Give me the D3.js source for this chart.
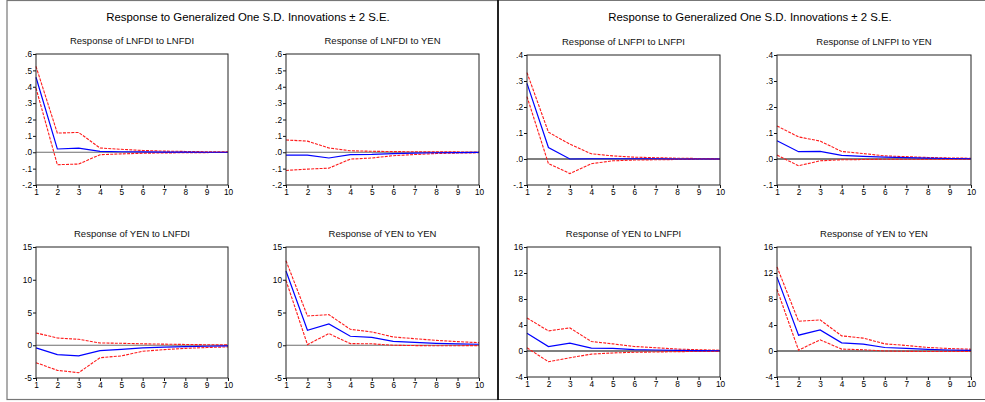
<!DOCTYPE html>
<html>
<head>
<meta charset="utf-8">
<script src="https://cdn.jsdelivr.net/npm/d3@7/dist/d3.min.js"></script>
<style>
  html, body { margin: 0; padding: 0; background: #fff; }
  svg { display: block; font-family: "Liberation Sans", Arial, sans-serif; }
</style>
</head>
<body>
<svg id="chart" width="985" height="402"></svg>
<script>
// Impulse-response horizon
const periods = [1, 2, 3, 4, 5, 6, 7, 8, 9, 10];

const mainTitle = "Response to Generalized One S.D. Innovations \u00b1 2 S.E.";

// Left block: LNFDI / YEN system
const lnfdiLnfdi      = [0.458, 0.020, 0.025, 0.005, 0.003, 0.002, 0.001, 0.001, 0.000, 0.000];
const lnfdiLnfdiUp    = [0.524, 0.117, 0.121, 0.026, 0.018, 0.011, 0.007, 0.005, 0.003, 0.002];
const lnfdiLnfdiLo    = [0.392, -0.076, -0.072, -0.015, -0.010, -0.006, -0.004, -0.003, -0.002, -0.001];

const lnfdiYen        = [-0.017, -0.017, -0.035, -0.015, -0.013, -0.008, -0.005, -0.003, -0.002, -0.001];
const lnfdiYenUp      = [0.075, 0.068, 0.026, 0.009, 0.006, 0.004, 0.003, 0.002, 0.002, 0.001];
const lnfdiYenLo      = [-0.111, -0.103, -0.097, -0.042, -0.035, -0.021, -0.014, -0.008, -0.005, -0.003];

const yenLnfdi        = [-0.40, -1.43, -1.63, -0.82, -0.62, -0.41, -0.30, -0.20, -0.15, -0.10];
const yenLnfdiUp      = [1.88, 1.11, 0.91, 0.35, 0.30, 0.22, 0.17, 0.12, 0.08, 0.05];
const yenLnfdiLo      = [-2.66, -3.83, -4.19, -1.90, -1.63, -0.92, -0.67, -0.47, -0.35, -0.25];

const yenYenA         = [11.34, 2.28, 3.25, 1.37, 1.21, 0.60, 0.45, 0.30, 0.20, 0.15];
const yenYenAUp       = [12.90, 4.47, 4.67, 2.43, 2.03, 1.27, 1.00, 0.75, 0.55, 0.40];
const yenYenALo       = [9.90, 0.10, 1.78, 0.25, 0.22, 0.00, -0.05, -0.08, -0.07, -0.05];

// Right block: LNFPI / YEN system
const lnfpiLnfpi      = [0.291, 0.044, 0.000, 0.001, 0.001, 0.001, 0.001, 0.000, 0.000, 0.000];
const lnfpiLnfpiUp    = [0.332, 0.103, 0.057, 0.020, 0.012, 0.007, 0.005, 0.003, 0.002, 0.001];
const lnfpiLnfpiLo    = [0.240, -0.018, -0.056, -0.018, -0.007, -0.004, -0.003, -0.002, -0.001, -0.001];

const lnfpiYen        = [0.070, 0.028, 0.029, 0.014, 0.010, 0.007, 0.005, 0.003, 0.002, 0.001];
const lnfpiYenUp      = [0.127, 0.085, 0.069, 0.029, 0.021, 0.012, 0.009, 0.006, 0.004, 0.003];
const lnfpiYenLo      = [0.015, -0.026, -0.007, -0.003, -0.002, -0.001, -0.001, -0.001, -0.001, -0.001];

const yenLnfpi        = [2.74, 0.69, 1.21, 0.44, 0.40, 0.20, 0.15, 0.10, 0.06, 0.04];
const yenLnfpiUp      = [5.08, 3.09, 3.55, 1.46, 1.10, 0.69, 0.50, 0.30, 0.20, 0.12];
const yenLnfpiLo      = [0.49, -1.65, -1.04, -0.48, -0.30, -0.20, -0.15, -0.10, -0.07, -0.05];

const yenYenB         = [11.36, 2.43, 3.25, 1.26, 1.06, 0.54, 0.40, 0.25, 0.15, 0.10];
const yenYenBUp       = [12.94, 4.58, 4.78, 2.33, 1.98, 1.10, 0.85, 0.55, 0.38, 0.28];
const yenYenBLo       = [9.48, 0.13, 1.72, 0.29, 0.20, 0.00, -0.05, -0.08, -0.08, -0.07];

// Y-axis tick values per scale family
const ticksFdi   = [-0.2, -0.1, 0, 0.1, 0.2, 0.3, 0.4, 0.5, 0.6];
const ticksYen5  = [-5, 0, 5, 10, 15];
const ticksFpi   = [-0.1, 0, 0.1, 0.2, 0.3, 0.4];
const ticksYen4  = [-4, 0, 4, 8, 12, 16];

// "0.1" -> ".1", "-0.1" -> "-.1", plain hyphen for minus
const fmtDec = v => d3.format(".1f")(v).replace("\u2212", "-").replace(/^(-?)0\./, "$1.");
const fmtInt = v => d3.format("d")(v).replace("\u2212", "-");

const panels = [
  { title: "Response of LNFDI to LNFDI", mid: lnfdiLnfdi, up: lnfdiLnfdiUp, lo: lnfdiLnfdiLo,
    ticks: ticksFdi, fmt: fmtDec, x0: 36, x1: 228, y0: 54, y1: 185, zero: "#6e6e6e" },
  { title: "Response of LNFDI to YEN", mid: lnfdiYen, up: lnfdiYenUp, lo: lnfdiYenLo,
    ticks: ticksFdi, fmt: fmtDec, x0: 286, x1: 479, y0: 54, y1: 185, zero: "#6e6e6e" },
  { title: "Response of YEN to LNFDI", mid: yenLnfdi, up: yenLnfdiUp, lo: yenLnfdiLo,
    ticks: ticksYen5, fmt: fmtInt, x0: 36, x1: 228, y0: 247, y1: 378, zero: "#6e6e6e" },
  { title: "Response of YEN to YEN", mid: yenYenA, up: yenYenAUp, lo: yenYenALo,
    ticks: ticksYen5, fmt: fmtInt, x0: 286, x1: 479, y0: 247, y1: 378, zero: "#6e6e6e" },
  { title: "Response of LNFPI to LNFPI", mid: lnfpiLnfpi, up: lnfpiLnfpiUp, lo: lnfpiLnfpiLo,
    ticks: ticksFpi, fmt: fmtDec, x0: 527, x1: 720, y0: 55, y1: 185, zero: "#000" },
  { title: "Response of LNFPI to YEN", mid: lnfpiYen, up: lnfpiYenUp, lo: lnfpiYenLo,
    ticks: ticksFpi, fmt: fmtDec, x0: 777, x1: 971, y0: 55, y1: 185, zero: "#000" },
  { title: "Response of YEN to LNFPI", mid: yenLnfpi, up: yenLnfpiUp, lo: yenLnfpiLo,
    ticks: ticksYen4, fmt: fmtInt, x0: 527, x1: 720, y0: 247, y1: 377, zero: "#000" },
  { title: "Response of YEN to YEN", mid: yenYenB, up: yenYenBUp, lo: yenYenBLo,
    ticks: ticksYen4, fmt: fmtInt, x0: 777, x1: 971, y0: 247, y1: 377, zero: "#000" }
];

const svg = d3.select("#chart");

// Outer frames of the two blocks
svg.append("rect").attr("x", 7).attr("y", 0.5).attr("width", 491).attr("height", 399)
  .attr("fill", "none").attr("stroke", "#777").attr("stroke-width", 1.2);
svg.append("line").attr("x1", 498).attr("x2", 985).attr("y1", 0.5).attr("y2", 0.5)
  .attr("stroke", "#777").attr("stroke-width", 1.2);
svg.append("line").attr("x1", 498).attr("x2", 985).attr("y1", 399.5).attr("y2", 399.5)
  .attr("stroke", "#555").attr("stroke-width", 1.2);
svg.append("line").attr("x1", 498).attr("x2", 498).attr("y1", 0).attr("y2", 400)
  .attr("stroke", "#000").attr("stroke-width", 1.6);

// Block titles
[248, 750].forEach(cx => {
  svg.append("text").attr("x", cx).attr("y", 21).attr("text-anchor", "middle")
    .attr("font-size", "11.4px").attr("fill", "#000").text(mainTitle);
});

panels.forEach(p => {
  const x = d3.scaleLinear().domain([1, 10]).range([p.x0, p.x1]);
  const y = d3.scaleLinear().domain([p.ticks[0], p.ticks[p.ticks.length - 1]]).range([p.y1, p.y0]);
  const g = svg.append("g");

  // Panel title
  g.append("text").attr("x", (p.x0 + p.x1) / 2).attr("y", p.y0 - 10.5)
    .attr("text-anchor", "middle").attr("font-size", "9.5px").attr("fill", "#111")
    .text(p.title);

  // Zero reference line
  g.append("line").attr("x1", p.x0).attr("x2", p.x1)
    .attr("y1", y(0)).attr("y2", y(0))
    .attr("stroke", p.zero).attr("stroke-width", 1.2);

  const line = d3.line().x((d, i) => x(periods[i])).y(d => y(d));

  // ±2 S.E. bands
  [p.up, p.lo].forEach(band => {
    g.append("path").datum(band).attr("d", line)
      .attr("fill", "none").attr("stroke", "#ff1a1a").attr("stroke-width", 1.1)
      .attr("stroke-dasharray", "3,1.2");
  });

  // Impulse response
  g.append("path").datum(p.mid).attr("d", line)
    .attr("fill", "none").attr("stroke", "#0000ff").attr("stroke-width", 1.2);

  // Axes
  const yAxis = d3.axisLeft(y).tickValues(p.ticks).tickFormat(p.fmt)
    .tickSize(3).tickSizeOuter(0).tickPadding(1);
  const ga = g.append("g").attr("transform", `translate(${p.x0},0)`).call(yAxis);
  const xAxis = d3.axisBottom(x).tickValues(periods).tickFormat(d3.format("d"))
    .tickSize(3).tickSizeOuter(0).tickPadding(1);
  const gb = g.append("g").attr("transform", `translate(0,${p.y1})`).call(xAxis);
  [ga, gb].forEach(a => {
    a.select(".domain").remove();
    a.selectAll("text").attr("font-size", "8.3px").attr("fill", "#000")
      .attr("font-family", "'Liberation Sans', Arial, sans-serif");
    a.selectAll("line").attr("stroke", "#111");
  });

  // Plot frame
  g.append("rect").attr("x", p.x0).attr("y", p.y0)
    .attr("width", p.x1 - p.x0).attr("height", p.y1 - p.y0)
    .attr("fill", "none").attr("stroke", "#222").attr("stroke-width", 1);
});
</script>
</body>
</html>
